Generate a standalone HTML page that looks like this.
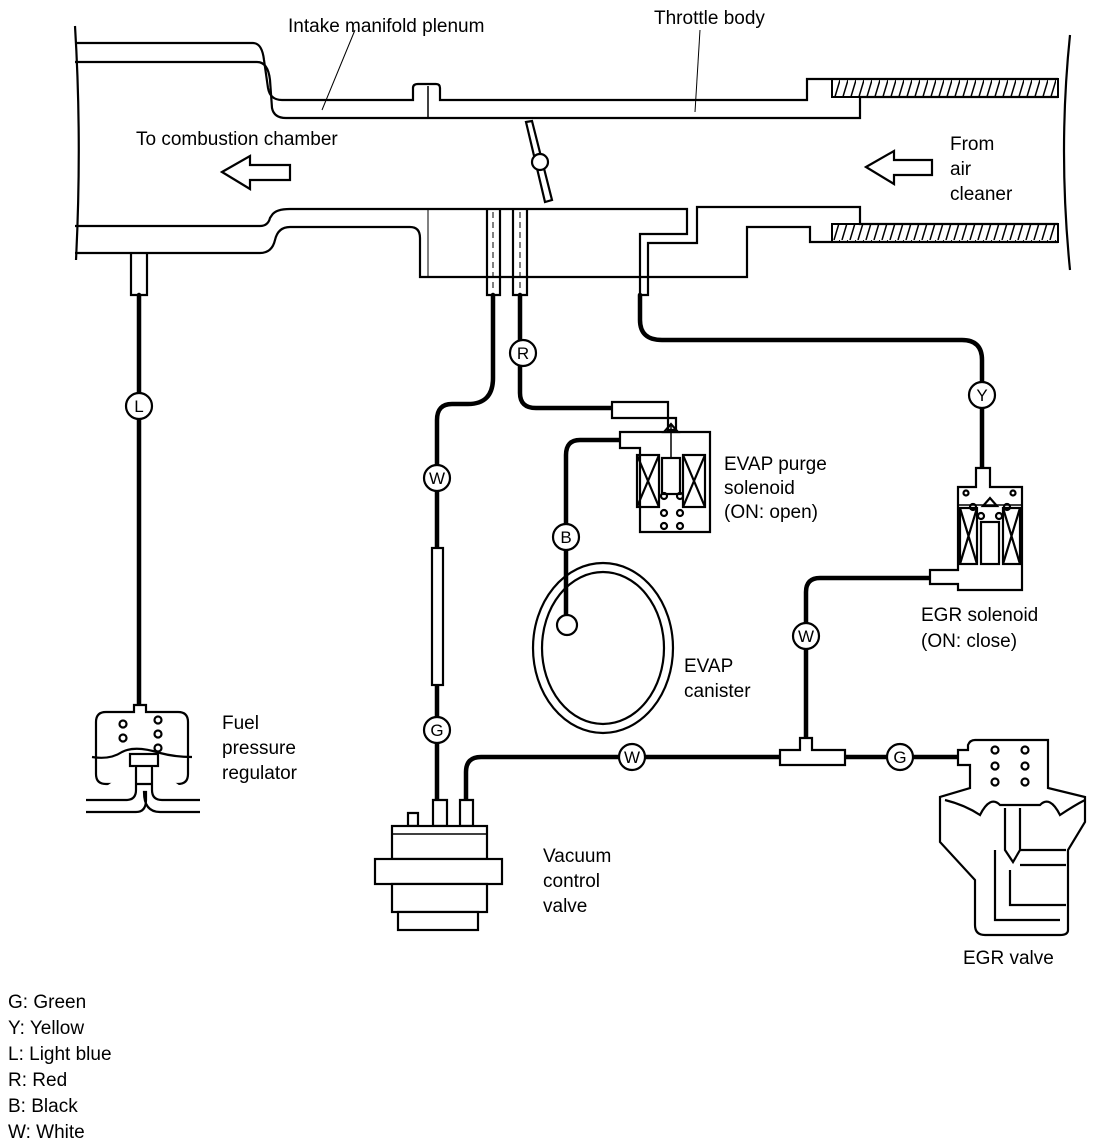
<!DOCTYPE html>
<html><head><meta charset="utf-8"><style>
html,body{margin:0;padding:0;background:#fff;}
svg{display:block;}
text{font-family:"Liberation Sans",sans-serif;font-size:19px;fill:#000;}
.t{fill:none;stroke:#000;stroke-width:2.2;}
.h{fill:none;stroke:#000;stroke-width:4.5;stroke-linecap:round;}
.c{fill:#fff;stroke:#000;stroke-width:2.2;}
.lt{font-size:17px;text-anchor:middle;}
</style></head><body>
<svg width="1104" height="1146" viewBox="0 0 1104 1146" xmlns="http://www.w3.org/2000/svg">
<defs><pattern id="hat" width="8" height="20" patternUnits="userSpaceOnUse"><path d="M2 20 L8 0" stroke="#000" stroke-width="1.5"/></pattern></defs>
<!-- pipe walls -->
<path class="t" d="M75 26 Q82 140 76 260"/>
<path class="t" d="M1070 35 Q1058 150 1070 270" />
<path class="t" d="M75 43 H253 Q262 43 264 60 L268 88 Q270 100 282 100 H413 V88 Q413 84 418 84 H436 Q440 84 440 88 V100 H807 V79 H1058"/>
<line x1="428" y1="86" x2="428" y2="118" stroke="#000" stroke-width="1.5"/>
<path class="t" d="M75 62 H257 Q268 62 270 80 L272 108 Q274 118 286 118 H860 V97 H1058"/>
<rect x="832" y="79" width="226" height="18" fill="url(#hat)" stroke="#000" stroke-width="2"/>
<path class="t" d="M75 226 H260 Q268 226 270 218 L272 215 Q276 209 290 209 H687 V234 H640 V295 H648 V243 H697 V207 H860 V224 H1058"/>
<path class="t" d="M75 253 H260 Q272 253 275 240 Q278 227 290 227 H410 Q420 227 420 238 V277 H747 V227 H810 V242 H1058"/>
<rect x="832" y="224" width="226" height="18" fill="url(#hat)" stroke="#000" stroke-width="2"/>
<line x1="428" y1="209" x2="428" y2="277" stroke="#000" stroke-width="1"/>
<!-- ports -->
<path class="t" d="M131 253 V295 H147 V253"/>
<path class="t" d="M487 209 V295 H500 V209 M513 209 V295 H527 V209"/>
<line x1="493" y1="212" x2="493" y2="290" stroke="#000" stroke-width="1" stroke-dasharray="6 4"/>
<line x1="520" y1="212" x2="520" y2="290" stroke="#000" stroke-width="1" stroke-dasharray="6 4"/>
<!-- throttle -->
<path class="t" d="M526 122 L532 121 L552 200 L545 202 Z" />
<circle cx="540" cy="162" r="8" class="c"/>
<!-- arrows -->
<path class="t" d="M222 172 L250 156 V165 H290 V180 H250 V189 Z"/>
<path class="t" d="M866 167 L894 151 V160 H932 V175 H894 V184 Z"/>
<!-- leader lines -->
<line x1="355" y1="30" x2="322" y2="110" stroke="#000" stroke-width="1"/>
<line x1="700" y1="30" x2="695" y2="112" stroke="#000" stroke-width="1"/>
<!-- hoses -->
<path class="h" d="M139 295 V705"/>
<path class="h" d="M493 295 V378 Q493 404 468 404 H452 Q437 404 437 420 V548 M437 685 V800"/>
<rect x="432" y="548" width="11" height="137" class="c"/>
<path class="h" d="M520 295 V393 Q520 408 536 408 H612"/>
<path class="h" d="M620 440 H580 Q566 440 566 455 V615"/>
<path class="h" d="M640 295 V320 Q640 340 662 340 H962 Q982 340 982 360 V468"/>
<path class="h" d="M930 578 H820 Q806 578 806 592 V750"/>
<path class="h" d="M466 800 V772 Q466 757 481 757 H780 M845 757 H960"/>
<!-- labels circles -->
<g>
<circle cx="139" cy="406" r="13" class="c"/><text x="139" y="412" class="lt">L</text>
<circle cx="523" cy="353" r="13" class="c"/><text x="523" y="359" class="lt">R</text>
<circle cx="437" cy="478" r="13" class="c"/><text x="437" y="484" class="lt">W</text>
<circle cx="437" cy="730" r="13" class="c"/><text x="437" y="736" class="lt">G</text>
<circle cx="566" cy="537" r="13" class="c"/><text x="566" y="543" class="lt">B</text>
<circle cx="982" cy="395" r="13" class="c"/><text x="982" y="401" class="lt">Y</text>
<circle cx="806" cy="636" r="13" class="c"/><text x="806" y="642" class="lt">W</text>
<circle cx="632" cy="757" r="13" class="c"/><text x="632" y="763" class="lt">W</text>
<circle cx="900" cy="757" r="13" class="c"/><text x="900" y="763" class="lt">G</text>
</g>
<!-- tee -->
<path class="c" d="M780 750 H800 V738 H812 V750 H845 V765 H780 Z"/>
<!-- EVAP purge solenoid -->
<path class="c" d="M612 402 H668 V430 H676 V418 H612 Z"/>
<path class="c" d="M630 432 H710 V532 H640 V448 H620 V432 H630"/>
<rect x="637" y="455" width="22" height="52" class="t"/><path class="t" d="M637 455 L659 507 M659 455 L637 507"/>
<rect x="683" y="455" width="22" height="52" class="t"/><path class="t" d="M683 455 L705 507 M705 455 L683 507"/>
<rect x="662" y="458" width="18" height="36" class="t"/>
<line x1="671" y1="425" x2="671" y2="458" stroke="#000" stroke-width="1.5"/>
<path class="t" d="M664 432 L671 424 L678 432 Z"/>
<g class="t"><circle cx="664" cy="496" r="3"/><circle cx="680" cy="496" r="3"/><circle cx="664" cy="513" r="3"/><circle cx="680" cy="513" r="3"/><circle cx="664" cy="526" r="3"/><circle cx="680" cy="526" r="3"/></g>
<!-- canister -->
<ellipse cx="603" cy="648" rx="70" ry="85" class="t"/>
<ellipse cx="603" cy="648" rx="61" ry="76" class="t"/>
<circle cx="567" cy="625" r="10" class="c"/>
<!-- EGR solenoid -->
<path class="c" d="M976 468 H990 V487 H1022 V590 H958 V584 H930 V570 H958 V487 H976 Z"/>
<line x1="958" y1="505" x2="1022" y2="505" stroke="#000" stroke-width="1.5"/>
<rect x="960" y="508" width="17" height="56" class="t"/><path class="t" d="M960 508 L977 564 M977 508 L960 564"/>
<rect x="1003" y="508" width="17" height="56" class="t"/><path class="t" d="M1003 508 L1020 564 M1020 508 L1003 564"/>
<rect x="981" y="522" width="18" height="42" class="t"/>
<path class="t" d="M983 506 L990 498 L997 506 Z"/>
<g class="t"><circle cx="973" cy="507" r="3"/><circle cx="1007" cy="507" r="3"/><circle cx="981" cy="516" r="3"/><circle cx="999" cy="516" r="3"/><circle cx="966" cy="493" r="2.5"/><circle cx="1013" cy="493" r="2.5"/></g>
<!-- EGR valve -->
<path class="c" d="M958 750 H968 V745 Q970 740 975 740 H1048 V788 L1085 797 V822 L1068 850 V930 Q1068 935 1060 935 H985 Q975 935 975 925 V880 L940 842 V797 L970 788 V765 H958 Z"/>
<path class="t" d="M945 800 Q965 805 980 815 Q990 795 1000 805 L1040 805 Q1050 795 1060 815 Q1075 805 1085 800"/>
<path class="t" d="M1005 808 V850 L1013 862 L1020 850 V808"/>
<path class="t" d="M1020 850 H1066 M1020 865 H1066 M1010 870 V905 H1066 M995 850 V920 H1060"/>
<g class="t"><circle cx="995" cy="750" r="3.5"/><circle cx="1025" cy="750" r="3.5"/><circle cx="995" cy="766" r="3.5"/><circle cx="1025" cy="766" r="3.5"/><circle cx="995" cy="782" r="3.5"/><circle cx="1025" cy="782" r="3.5"/></g>
<!-- vacuum control valve -->
<path class="c" d="M433 800 H447 V826 H433 Z M460 800 H473 V826 H460 Z M408 813 H418 V826 H408 Z"/>
<rect x="392" y="826" width="95" height="33" class="c"/>
<line x1="392" y1="834" x2="487" y2="834" stroke="#000" stroke-width="1.5"/>
<rect x="375" y="859" width="127" height="25" class="c"/>
<rect x="392" y="884" width="95" height="28" class="c"/>
<rect x="398" y="912" width="80" height="18" class="c"/>
<!-- fuel pressure regulator -->
<path class="c" d="M134 705 H146 V712 H178 Q188 712 188 722 V774 Q188 784 178 784 H106 Q96 784 96 774 V722 Q96 712 106 712 H134 Z"/>
<path class="t" d="M92 757 Q110 760 122 752 Q135 745 160 753 Q175 757 192 757"/>
<rect x="130" y="754" width="28" height="12" class="c"/>
<path class="c" d="M136 766 V790 Q136 800 126 800 H86 M152 766 V790 Q152 800 162 800 H200 M86 812 H136 Q146 812 146 800 V792 H144 Q144 812 160 812 H200" fill="none"/>
<g class="t"><circle cx="123" cy="724" r="3.5"/><circle cx="158" cy="720" r="3.5"/><circle cx="123" cy="738" r="3.5"/><circle cx="158" cy="734" r="3.5"/><circle cx="158" cy="748" r="3.5"/></g>
<!-- text labels -->
<text x="288" y="32">Intake manifold plenum</text>
<text x="654" y="24">Throttle body</text>
<text x="136" y="145">To combustion chamber</text>
<text x="950" y="150">From</text>
<text x="950" y="175">air</text>
<text x="950" y="200">cleaner</text>
<text x="724" y="470">EVAP purge</text>
<text x="724" y="494">solenoid</text>
<text x="724" y="518">(ON: open)</text>
<text x="921" y="621">EGR solenoid</text>
<text x="921" y="647">(ON: close)</text>
<text x="684" y="672">EVAP</text>
<text x="684" y="697">canister</text>
<text x="222" y="729">Fuel</text>
<text x="222" y="754">pressure</text>
<text x="222" y="779">regulator</text>
<text x="543" y="862">Vacuum</text>
<text x="543" y="887">control</text>
<text x="543" y="912">valve</text>
<text x="963" y="964">EGR valve</text>
<text x="8" y="1008">G: Green</text>
<text x="8" y="1034">Y: Yellow</text>
<text x="8" y="1060">L: Light blue</text>
<text x="8" y="1086">R: Red</text>
<text x="8" y="1112">B: Black</text>
<text x="8" y="1138">W: White</text>
</svg>
</body></html>
